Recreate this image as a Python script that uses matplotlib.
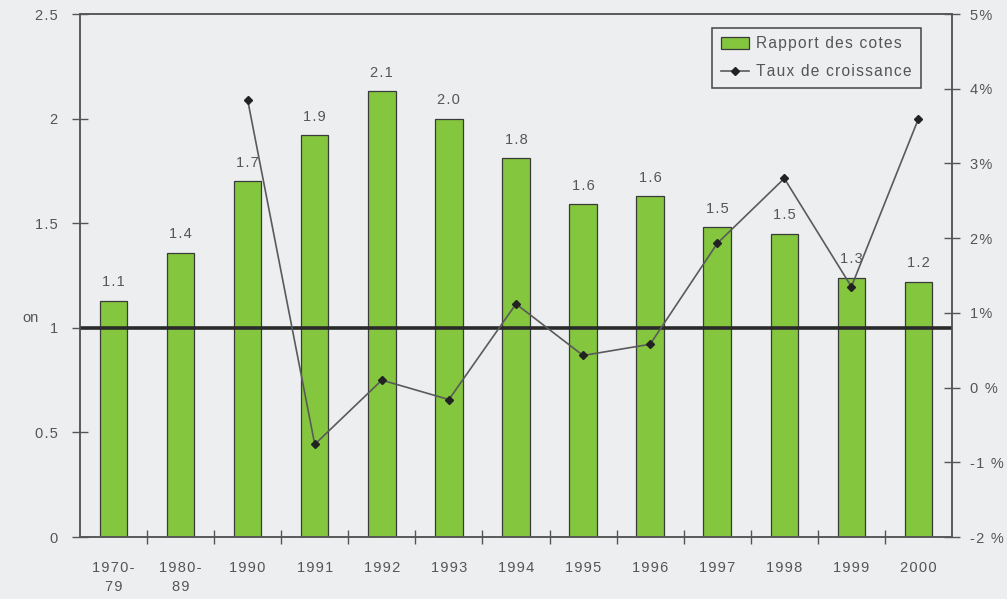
import numpy as np
import matplotlib.pyplot as plt

# data
categories = ['1970-\n79', '1980-\n89', '1990', '1991', '1992', '1993', '1994',
              '1995', '1996', '1997', '1998', '1999', '2000']
rapport = [1.13, 1.36, 1.70, 1.92, 2.13, 2.00, 1.81, 1.59, 1.63, 1.48, 1.45, 1.24, 1.22]
rapport_labels = ['1.1', '1.4', '1.7', '1.9', '2.1', '2.0', '1.8', '1.6', '1.6', '1.5', '1.5', '1.3', '1.2']
taux_years = ['1990', '1991', '1992', '1993', '1994', '1995', '1996', '1997', '1998', '1999', '2000']
taux = [3.85, -0.76, 0.10, -0.16, 1.12, 0.43, 0.58, 1.93, 2.80, 1.35, 3.60]
left_ticks = ['0', '0.5', '1', '1.5', '2', '2.5']
right_ticks = ['-2 %', '-1 %', '0 %', '1%', '2%', '3%', '4%', '5%']

bg = '#eceef0'
grey = '#555555'
green = '#84c63e'
fs = 10.5

plt.rcParams['font.family'] = ['Liberation Sans', 'DejaVu Sans']


def sp(s):
    # the scanned chart has wide letter spacing
    return '\n'.join('\u200a'.join(line) for line in s.split('\n'))


fig = plt.figure(figsize=(10.07, 5.99), dpi=100, facecolor=bg)
ax = fig.add_axes([0.0794, 0.1035, 0.866, 0.873])
ax.set_facecolor(bg)

x = np.arange(len(categories))
bars = ax.bar(x, rapport, width=0.41, color=green, edgecolor='#3a3a3a', linewidth=0.9,
              label='Rapport des cotes', zorder=2)
for xi, v, lab in zip(x, rapport, rapport_labels):
    ax.text(xi, v + 0.055, sp(lab), ha='center', va='bottom', fontsize=fs, color=grey)

ax.axhline(1, color='#2a2a2a', linewidth=2.6, zorder=3)

ax.set_xlim(-0.5, len(categories) - 0.5)
ax.set_ylim(0, 2.5)
ax.set_yticks([0, 0.5, 1, 1.5, 2, 2.5])
ax.set_yticklabels([sp(t) for t in left_ticks])
ax.set_xticks(x)
ax.set_xticklabels([sp(c) for c in categories], linespacing=1.45)
ax.set_xticks(np.arange(0.5, len(categories) - 1, 1), minor=True)
ax.tick_params(axis='x', which='major', length=0, pad=17, labelsize=fs, labelcolor=grey)
ax.tick_params(axis='x', which='minor', direction='inout', length=10, width=1, color=grey)
ax.tick_params(axis='y', direction='inout', length=12, width=1, color=grey,
               labelsize=fs, labelcolor=grey, pad=10)
for s in ax.spines.values():
    s.set_color(grey)
    s.set_linewidth(1.1)

ax2 = ax.twinx()
pos = [categories.index(y) for y in taux_years]
line, = ax2.plot(pos, taux, color='#5a5a5a', linewidth=1.2, marker='D', markersize=4,
                 markerfacecolor='#222222', markeredgecolor='#222222',
                 label='Taux de croissance', zorder=4)
ax2.set_ylim(-2, 5)
ax2.set_yticks(range(-2, 6))
ax2.set_yticklabels([sp(t) for t in right_ticks])
ax2.tick_params(axis='y', direction='inout', length=12, width=1, color=grey,
                labelsize=fs, labelcolor=grey, pad=7)
for s in ax2.spines.values():
    s.set_color(grey)
    s.set_linewidth(1.1)

leg = ax2.legend([bars, line], [sp('Rapport des cotes'), sp('Taux de croissance')],
                 loc='upper right', bbox_to_anchor=(0.964, 0.974), fancybox=False,
                 facecolor=bg, framealpha=1, edgecolor='#444444', fontsize=11.2,
                 labelcolor=grey, handlelength=1.8, handleheight=0.8, handletextpad=0.5,
                 borderpad=0.55, labelspacing=0.85, borderaxespad=0)
leg.get_frame().set_linewidth(1.1)

fig.text(0.022, 0.462, 'on', fontsize=fs, color=grey)

fig.savefig('out.png', dpi=100, facecolor=bg)
